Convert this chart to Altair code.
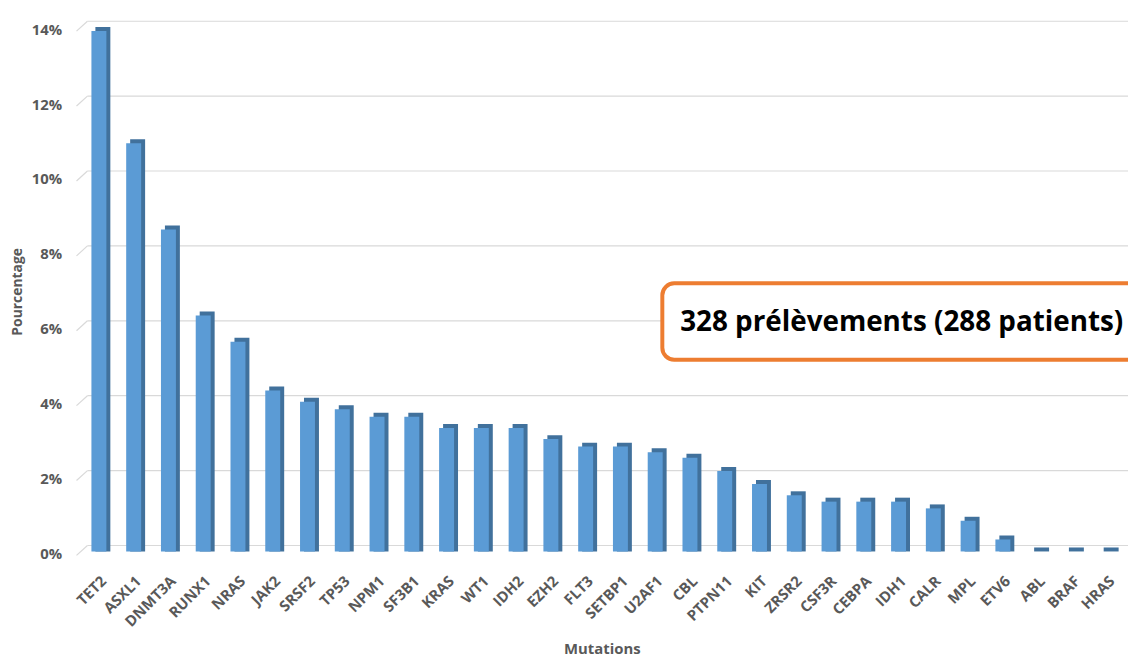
import altair as alt
import pandas as pd

genes = ["TET2", "ASXL1", "DNMT3A", "RUNX1", "NRAS", "JAK2", "SRSF2", "TP53", "NPM1", "SF3B1",
         "KRAS", "WT1", "IDH2", "EZH2", "FLT3", "SETBP1", "U2AF1", "CBL", "PTPN11", "KIT",
         "ZRSR2", "CSF3R", "CEBPA", "IDH1", "CALR", "MPL", "ETV6", "ABL", "BRAF", "HRAS"]
pct = [13.9, 10.9, 8.6, 6.3, 5.6, 4.3, 4.0, 3.8, 3.6, 3.6,
       3.3, 3.3, 3.3, 3.0, 2.8, 2.8, 2.65, 2.5, 2.15, 1.8,
       1.5, 1.33, 1.33, 1.33, 1.15, 0.82, 0.32, 0.0, 0.0, 0.0]
grid_vals = [0, 0.02, 0.04, 0.06, 0.08, 0.10, 0.12, 0.14]
note_text = ["328 prélèvements (288 patients)"]
note_top = [0.0716]
note_bottom = [0.0512]
note_mid = [0.0610]

df = pd.DataFrame({"Mutation": genes, "Pct": [p / 100 for p in pct]})
grid_df = pd.DataFrame({"v": grid_vals})
note_df = pd.DataFrame({"label": note_text, "y1": note_top, "y2": note_bottom, "ym": note_mid})

W, H = 1054, 528
GRAY = "#595959"
FONT = "Open Sans"

x_scale = alt.Scale(paddingInner=0.57, paddingOuter=0.335, align=0.427)
y_scale = alt.Scale(domain=[0, 0.14], nice=False)

x_axis = alt.Axis(title="Mutations", labelAngle=-45, labelFont=FONT, labelFontSize=15,
                  labelFontWeight="bold", labelColor=GRAY, domain=False, ticks=False,
                  labelPadding=22, labelOffset=0, titleFont=FONT, titleFontSize=15,
                  titleFontWeight="bold", titleColor=GRAY, titleX=524, titleY=98,
                  titleBaseline="middle")
y_axis = alt.Axis(title="Pourcentage", format=".0%", values=grid_vals, grid=False, domain=False,
                  ticks=False, labelPadding=20, labelFont=FONT, labelFontSize=15,
                  labelFontWeight="bold", labelColor=GRAY, labelOffset=2,
                  titleFont=FONT, titleFontSize=14, titleFontWeight="bold", titleColor=GRAY,
                  titleX=-64, titleY=266, titleBaseline="middle")

grid = alt.Chart(grid_df).mark_rule(color="#D9D9D9", strokeWidth=1.2, yOffset=-6).encode(
    y=alt.Y("v:Q", scale=y_scale, axis=y_axis), x=alt.value(6), x2=alt.value(W))
diag = alt.Chart(grid_df).mark_rule(color="#D9D9D9", strokeWidth=1.2, yOffset=4, y2Offset=-6).encode(
    y=alt.Y("v:Q", scale=y_scale, axis=y_axis), y2="v:Q", x=alt.value(-5), x2=alt.value(6))

side = alt.Chart(df).mark_bar(color="#41719C", xOffset=4, yOffset=-4, y2Offset=0.01).encode(
    x=alt.X("Mutation:N", sort=None, scale=x_scale, axis=x_axis),
    y=alt.Y("Pct:Q", scale=y_scale, axis=y_axis, stack=None),
    y2=alt.datum(0))
front = alt.Chart(df).mark_bar(color="#5B9BD5").encode(
    x=alt.X("Mutation:N", sort=None, scale=x_scale, axis=x_axis),
    y=alt.Y("Pct:Q", scale=y_scale, axis=y_axis, stack=None),
    y2=alt.datum(0))

box = alt.Chart(note_df).mark_rect(cornerRadius=12, stroke="#ED7D31", strokeWidth=4, fill="white").encode(
    x=alt.value(585), x2=alt.value(1120),
    y=alt.Y("y1:Q", scale=y_scale, axis=y_axis), y2="y2:Q")
txt = alt.Chart(note_df).mark_text(align="left", baseline="middle", font=FONT, fontWeight="bold",
                                    fontSize=28, color="black").encode(
    x=alt.value(603), y=alt.Y("ym:Q", scale=y_scale, axis=y_axis), text="label:N")

chart = alt.layer(grid, diag, side, front, box, txt).properties(
    width=W, height=H,
    autosize=alt.AutoSizeParams(type="none"),
    padding={"left": 74, "top": 17, "right": 0, "bottom": 108},
    background="white",
).configure_view(stroke=None)

chart.save("out.html", embed_options={"renderer": "svg", "actions": False})
